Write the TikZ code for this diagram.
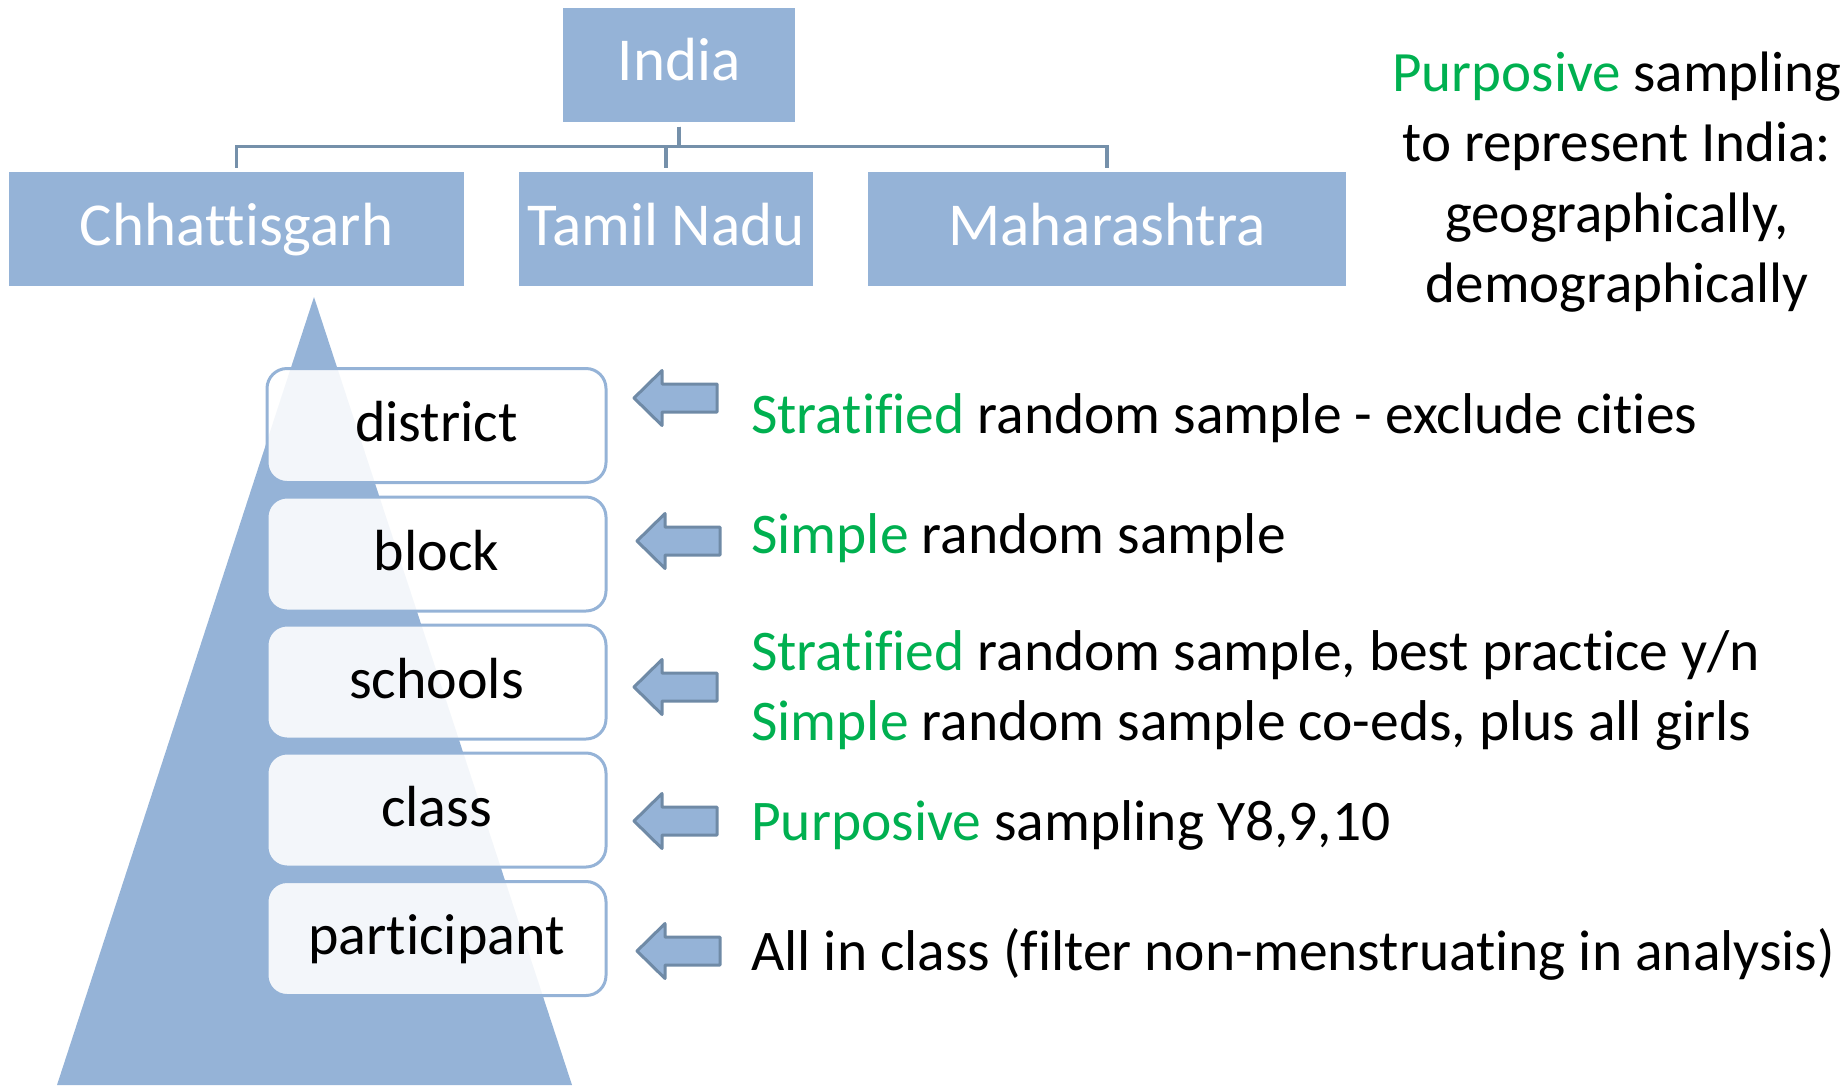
\documentclass[tikz,border=0pt]{standalone}
\usepackage{fontspec}
\setmainfont[Ligatures=NoCommon]{Carlito}
\definecolor{boxblue}{HTML}{95B3D7}
\definecolor{connblue}{HTML}{7590AA}
\definecolor{arrowedge}{HTML}{6F8AA6}
\definecolor{hlgreen}{HTML}{00B050}
\newcommand{\hl}[1]{\textcolor{hlgreen}{#1}}
\begin{document}
\begin{tikzpicture}[x=1pt,y=-1pt,
  topbox/.style={fill=boxblue, draw=none, text=white,
    font=\fontsize{61}{73}\selectfont, text height=40pt, text depth=8pt,
    inner sep=0pt, minimum height=114pt},
  conn/.style={draw=connblue, line width=3.5pt, shorten <=5pt, shorten >=4pt},
  levelbox/.style={draw=boxblue, line width=3pt, fill=white, fill opacity=0.89,
    text opacity=1, rounded corners=20pt, minimum width=339pt, minimum height=114pt,
    text height=40pt, text depth=8pt, inner sep=0pt,
    font=\fontsize{58}{68}\selectfont},
  blockarrow/.style={fill=boxblue, draw=arrowedge, line width=3pt, line join=round},
  desc/.style={anchor=base west, inner sep=0pt, font=\fontsize{57.5}{68}\selectfont},
  note/.style={anchor=base, inner sep=0pt, font=\fontsize{57}{68}\selectfont}
]
\useasboundingbox (0,0) rectangle (1846,1085);

% top hierarchy
\node[topbox, minimum width=232pt] (India) at (679,64.5) {India};
\node[topbox, minimum width=455pt] (Chh) at (236.5,229) {Chhattisgarh};
\node[topbox, minimum width=294pt] (Tamil) at (666,229) {Tamil Nadu};
\node[topbox, minimum width=478pt] (Maha) at (1107,229) {Maharashtra};

\draw[conn] (India.south) -- ++(0,25) -| (Chh.north);
\draw[conn] (India.south) -- ++(0,25) -| (Tamil.north);
\draw[conn] (India.south) -- ++(0,25) -| (Maha.north);

% pyramid
\fill[boxblue] (314,297) -- (572,1085) -- (57,1085) -- cycle;

% levels
\node[levelbox] (district) at (436.5,425.5) {district};
\node[levelbox] (block) at (436.5,554) {block};
\node[levelbox] (schools) at (436.5,682) {schools};
\node[levelbox] (class) at (436.5,810) {class};
\node[levelbox] (participant) at (436.5,938.5) {participant};

% block arrows
\coordinate (a1) at (634,398);
\coordinate (a2) at (637,541);
\coordinate (a3) at (634,687);
\coordinate (a4) at (634,821);
\coordinate (a5) at (637,951);
\foreach \a in {a1,a2,a3,a4,a5}{
  \draw[blockarrow] (\a) -- ++(28,-27.5) -- ++(0,13.5) -- ++(55,0) -- ++(0,28)
    -- ++(-55,0) -- ++(0,13.5) -- cycle;
}

% descriptions
\node[desc] (d1) at (751,433) {\hl{Stratified} random sample - exclude cities};
\node[desc] (d2) at (751,553) {\hl{Simple} random sample};
\node[desc] (d3) at (751,670) {\hl{Stratified} random sample, best practice y/n};
\node[desc] (d4) at (751,740) {\hl{Simple} random sample co-eds, plus all girls};
\node[desc] (d5) at (751,840) {\hl{Purposive} sampling Y8,9,10};
\node[desc] (d6) at (751,970) {All in class (filter non-menstruating in analysis)};

% top-right note
\node[note] (n1) at (1617,91) {\hl{Purposive} sampling};
\node[note] (n2) at (1617,161) {to represent India:};
\node[note] (n3) at (1617,232) {geographically,};
\node[note] (n4) at (1617,302) {demographically};
\end{tikzpicture}
\end{document}
